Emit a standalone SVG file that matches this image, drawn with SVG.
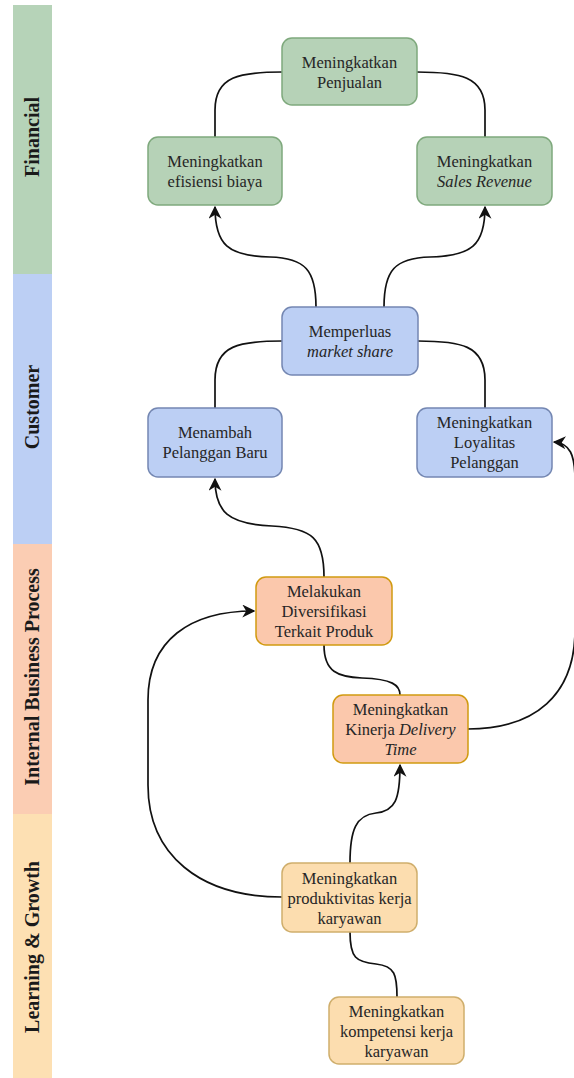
<svg xmlns="http://www.w3.org/2000/svg" width="574" height="1078" viewBox="0 0 574 1078">
<style>
.n text{font-family:"Liberation Serif","Times New Roman",serif;font-size:16.5px;fill:#262626;text-anchor:middle}
.lane text{font-family:"Liberation Serif","Times New Roman",serif;font-size:20px;font-weight:bold;fill:#1a1a1a;text-anchor:middle}
.g rect{fill:#b6d2b7;stroke:#7fa97d;stroke-width:1.5}
.b rect{fill:#bccff4;stroke:#7487b2;stroke-width:1.5}
.o rect{fill:#fbc8ac;stroke:#d19a10;stroke-width:1.5}
.y rect{fill:#fcddaf;stroke:#cfae6c;stroke-width:1.5}
.e{fill:none;stroke:#111;stroke-width:1.7}
</style>
<defs>
<marker id="arr" viewBox="0 0 10 10" refX="9" refY="5" markerWidth="13" markerHeight="13" markerUnits="userSpaceOnUse" orient="auto">
<path d="M0,0 L10,5 L0,10 L3,5 Z" fill="#111"/>
</marker>
</defs>
<g id="lanes" class="lane">
<rect x="13" y="5" width="39" height="269" fill="#b6d3b8"/>
<rect x="13" y="274" width="39" height="270" fill="#bccff4"/>
<rect x="13" y="544" width="39" height="270" fill="#fbcdb3"/>
<rect x="13" y="814" width="39" height="264" fill="#fde0b3"/>
<text transform="translate(39,137) rotate(-90)">Financial</text>
<text transform="translate(39,407) rotate(-90)">Customer</text>
<text transform="translate(39,677) rotate(-90)">Internal Business Process</text>
<text transform="translate(39,947) rotate(-90)">Learning &amp; Growth</text>
</g>
<g id="edges">
<path class="e" d="M282 72 C240 72 215 76 215 110 L215 137"/>
<path class="e" d="M417 72 C459 72 485 76 485 110 L485 137"/>
<path class="e" d="M316 307 C316 270 305 258 270 257 C228 256 215 245 215 207" marker-end="url(#arr)"/>
<path class="e" d="M384 307 C384 270 395 258 430 257 C472 256 485 245 485 207" marker-end="url(#arr)"/>
<path class="e" d="M282 341 C240 341 215 345 215 380 L215 408"/>
<path class="e" d="M418 341 C460 341 485 345 485 380 L485 408"/>
<path class="e" d="M324 577 C324 538 312 528 272 526 C228 524 215 512 215 479" marker-end="url(#arr)"/>
<path class="e" d="M324 645 C324 672 338 677 362 678 C392 679 400 685 400 695"/>
<path class="e" d="M468 729 C535 729 575 695 575 630 L575 480 C575 455 570 443 554 442" marker-end="url(#arr)"/>
<path class="e" d="M282 897 C200 897 148 855 148 785 L148 700 C148 640 190 611 254 611" marker-end="url(#arr)"/>
<path class="e" d="M350 863 C350 830 356 815 376 813 C395 811 400 800 400 765" marker-end="url(#arr)"/>
<path class="e" d="M350 932 C350 958 356 962 376 964 C395 966 397 975 397 997"/>
</g>
<g id="n1" class="n g"><rect x="282" y="38" width="135" height="67" rx="10"/><text x="349.5" y="68">Meningkatkan</text><text x="349.5" y="88">Penjualan</text></g>
<g id="n2" class="n g"><rect x="148" y="137" width="134" height="68" rx="10"/><text x="215" y="167">Meningkatkan</text><text x="215" y="187">efisiensi biaya</text></g>
<g id="n3" class="n g"><rect x="417" y="137" width="135" height="68" rx="10"/><text x="484.5" y="167">Meningkatkan</text><text x="484.5" y="187" font-style="italic">Sales Revenue</text></g>
<g id="n4" class="n b"><rect x="282" y="307" width="136" height="68" rx="10"/><text x="350" y="337">Memperluas</text><text x="350" y="357" font-style="italic">market share</text></g>
<g id="n5" class="n b"><rect x="148" y="408" width="134" height="69" rx="10"/><text x="215" y="438">Menambah</text><text x="215" y="458">Pelanggan Baru</text></g>
<g id="n6" class="n b"><rect x="417" y="408" width="135" height="69" rx="10"/><text x="484.5" y="428">Meningkatkan</text><text x="484.5" y="448">Loyalitas</text><text x="484.5" y="468">Pelanggan</text></g>
<g id="n7" class="n o"><rect x="256" y="577" width="136" height="68" rx="10"/><text x="324" y="597">Melakukan</text><text x="324" y="617">Diversifikasi</text><text x="324" y="637">Terkait Produk</text></g>
<g id="n8" class="n o"><rect x="333" y="695" width="135" height="68" rx="10"/><text x="400.5" y="715">Meningkatkan</text><text x="400.5" y="735">Kinerja <tspan font-style="italic">Delivery</tspan></text><text x="400.5" y="755" font-style="italic">Time</text></g>
<g id="n9" class="n y"><rect x="282" y="863" width="135" height="69" rx="10"/><text x="349.5" y="884">Meningkatkan</text><text x="349.5" y="904">produktivitas kerja</text><text x="349.5" y="924">karyawan</text></g>
<g id="n10" class="n y"><rect x="329" y="997" width="135" height="67" rx="10"/><text x="396.5" y="1017">Meningkatkan</text><text x="396.5" y="1037">kompetensi kerja</text><text x="396.5" y="1057">karyawan</text></g>
</svg>
